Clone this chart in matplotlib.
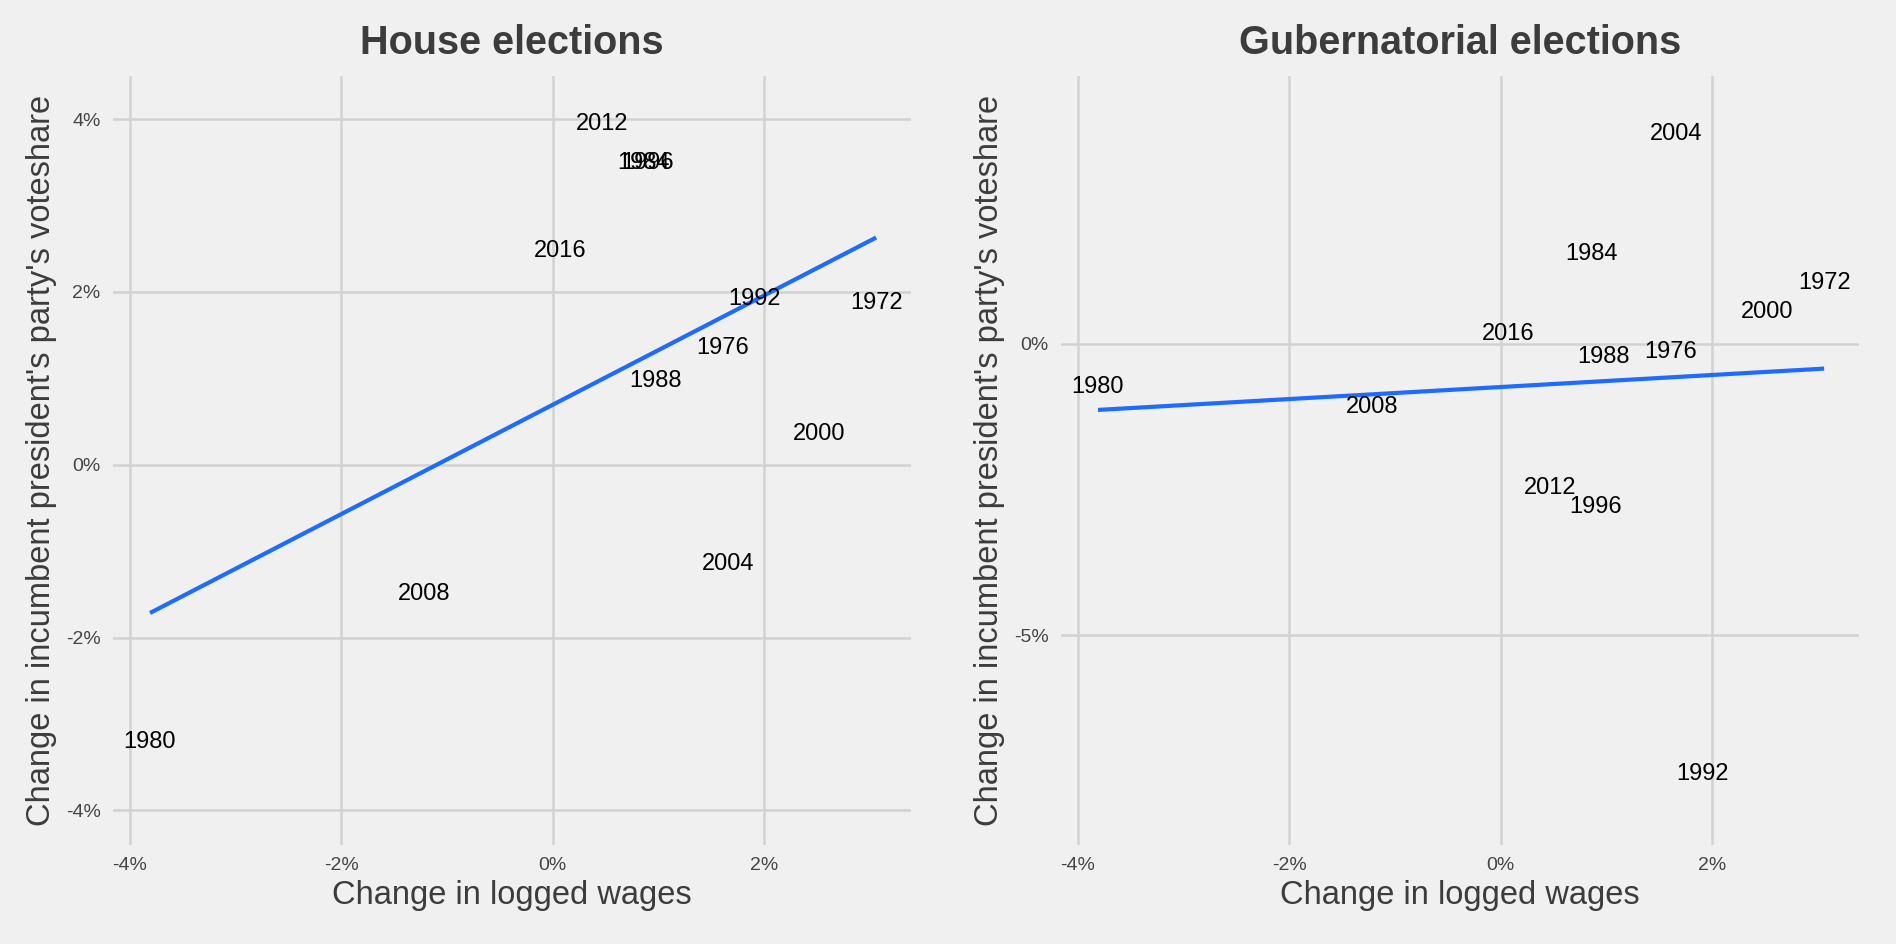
import numpy as np
import matplotlib
matplotlib.use("Agg")
import matplotlib.pyplot as plt

plt.rcParams['font.family'] = ['Liberation Sans', 'DejaVu Sans']

# election years and change in logged wages (%)
years = [1972, 1976, 1980, 1984, 1988, 1992, 1996, 2000, 2004, 2008, 2012, 2016]
wages = [3.06, 1.61, -3.81, 0.86, 0.97, 1.91, 0.90, 2.52, 1.66, -1.22, 0.47, 0.07]

# change in incumbent president's party's voteshare (%)
house = [1.87, 1.35, -3.21, 3.49, 0.97, 1.92, 3.49, 0.36, -1.15, -1.49, 3.95, 2.48]
gov = [1.04, -0.15, -0.75, 1.53, -0.23, -7.38, -2.80, 0.54, 3.59, -1.09, -2.47, 0.16]

xticks = [-4, -2, 0, 2]
house_yticks = [-4, -2, 0, 2, 4]
gov_yticks = [-5, 0]

bg = '#F0F0F0'
grid_col = '#D2D2D2'
txt_col = '#3C3C3C'
line_col = '#1F6BFF'

fig = plt.figure(figsize=(18.96, 9.44), dpi=100, facecolor=bg)
ax1 = fig.add_axes([0.0596, 0.1049, 0.4209, 0.8146])
ax2 = fig.add_axes([0.5596, 0.1049, 0.4209, 0.8146])


def panel(ax, yvals, title, yticks, ylim):
    ax.set_facecolor(bg)
    for s in ax.spines.values():
        s.set_visible(False)
    x = np.array(wages)
    y = np.array(yvals)
    for yr, xv, yv in zip(years, x, y):
        ax.text(xv, yv, str(yr), ha='center', va='center', fontsize=17, color='black')
    m, b = np.polyfit(x, y, 1)
    xs = np.array([x.min(), x.max()])
    ax.plot(xs, m * xs + b, color=line_col, lw=3.0, solid_capstyle='butt')
    ax.set_xlim(-4.16, 3.39)
    ax.set_ylim(*ylim)
    ax.set_xticks(xticks)
    ax.set_yticks(yticks)
    ax.set_xticklabels([f"{t}%" for t in xticks])
    ax.set_yticklabels([f"{t}%" for t in yticks])
    ax.tick_params(length=0, labelsize=14, colors='#444444')
    ax.tick_params(axis='y', pad=9)
    ax.tick_params(axis='x', pad=9)
    ax.grid(True, color=grid_col, lw=1.8)
    ax.set_axisbelow(True)
    ax.set_title(title, fontsize=28.5, fontweight='bold', color=txt_col, pad=16)
    ax.set_xlabel("Change in logged wages", fontsize=23.5, color=txt_col, labelpad=4)
    ax.set_ylabel("Change in incumbent president's party's voteshare", fontsize=23.5,
                  color=txt_col, labelpad=6)


panel(ax1, house, "House elections", house_yticks, (-4.40, 4.50))
panel(ax2, gov, "Gubernatorial elections", gov_yticks, (-8.60, 4.59))

fig.savefig("out.png", dpi=100, facecolor=bg)
